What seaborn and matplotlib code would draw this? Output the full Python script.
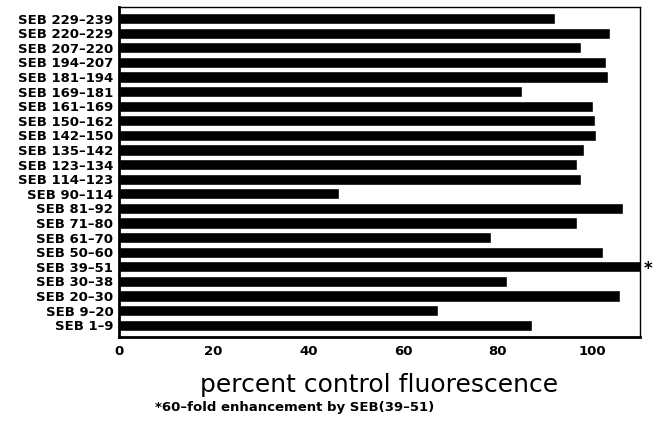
import numpy as np
import pandas as pd
import seaborn as sns
import matplotlib.pyplot as plt
from matplotlib.ticker import MultipleLocator

# peptide fragments, top to bottom as drawn
peptides = ['SEB 229–239', 'SEB 220–229', 'SEB 207–220', 'SEB 194–207',
            'SEB 181–194', 'SEB 169–181', 'SEB 161–169', 'SEB 150–162',
            'SEB 142–150', 'SEB 135–142', 'SEB 123–134', 'SEB 114–123',
            'SEB 90–114', 'SEB 81–92', 'SEB 71–80', 'SEB 61–70',
            'SEB 50–60', 'SEB 39–51', 'SEB 30–38', 'SEB 20–30',
            'SEB 9–20', 'SEB 1–9']
# percent control fluorescence (39-51 is a 60-fold enhancement -> clipped by the axis)
fluor = [92.0, 103.7, 97.5, 102.8, 103.3, 85.0, 100.0, 100.6, 100.8, 98.2, 96.8,
         97.5, 46.5, 106.5, 96.7, 78.5, 102.3, 6000.0, 82.0, 105.8, 67.3, 87.3]

df = pd.DataFrame({'peptide': peptides, 'fluor': fluor})

sns.set_style('white')
plt.rcParams['font.family'] = ['DejaVu Sans']
plt.rcParams['text.color'] = 'black'
plt.rcParams['axes.labelcolor'] = 'black'
plt.rcParams['xtick.color'] = 'black'
plt.rcParams['ytick.color'] = 'black'

fig, ax = plt.subplots(figsize=(6.68, 4.33), dpi=100)
fig.subplots_adjust(left=0.178, right=0.958, top=0.984, bottom=0.222)

sns.barplot(data=df, x='fluor', y='peptide', color='black', width=0.76,
            saturation=1, ax=ax)

ax.set_xlim(0, 110)
ax.set_ylim(len(peptides) - 0.2, -0.8)
ax.xaxis.set_major_locator(MultipleLocator(20))
ax.xaxis.set_minor_locator(MultipleLocator(10))
ax.tick_params(axis='x', which='major', direction='inout', length=8, width=1.5,
               labelsize=9.5, pad=2)
ax.tick_params(axis='x', which='minor', direction='inout', length=5, width=1.2)
ax.tick_params(axis='y', direction='out', length=3, width=1, labelsize=9.5, pad=1)
for lab in ax.get_xticklabels() + ax.get_yticklabels():
    lab.set_fontweight('bold')

for side in ['left', 'bottom']:
    ax.spines[side].set_linewidth(2)
for side in ['top', 'right']:
    ax.spines[side].set_linewidth(1)
for sp in ax.spines.values():
    sp.set_color('black')

ax.set_ylabel('')
ax.set_xlabel('percent control fluorescence', fontsize=18, labelpad=11,
              fontweight='normal')

# asterisk marking the enhanced fragment
ax.annotate('*', xy=(1, peptides.index('SEB 39–51')), xycoords=('axes fraction', 'data'),
            xytext=(3, -1.5), textcoords='offset points', ha='left', va='center',
            fontsize=12, fontweight='bold')

fig.text(0.232, 0.058, '*60–fold enhancement by SEB(39–51)', fontsize=9.5,
         fontweight='bold', ha='left', va='center')

fig.savefig('out.png', dpi=100)
